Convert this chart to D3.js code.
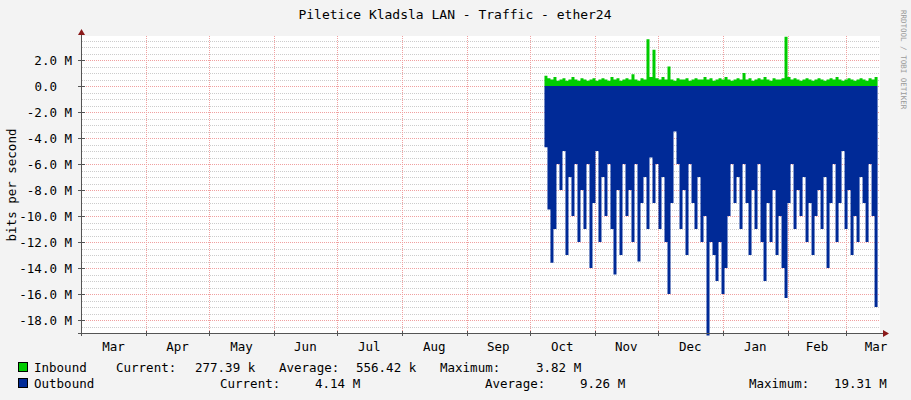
<!DOCTYPE html>
<html><head><meta charset="utf-8">
<script src="https://cdn.jsdelivr.net/npm/d3@7"></script>
<style>body{margin:0;background:#f3f3f3}text{font-family:"DejaVu Sans Mono",monospace;white-space:pre}</style>
</head><body><svg id="c" width="911" height="400"></svg>
<script>
const title = "Piletice Kladsla LAN - Traffic - ether24";
const months = ["Mar","Apr","May","Jun","Jul","Aug","Sep","Oct","Nov","Dec","Jan","Feb","Mar"];
const yTicks = [2,0,-2,-4,-6,-8,-10,-12,-14,-16,-18];
const dataStart = new Date(2018,9,8);
const stepDays = 1.431;
const outbound = [4.7,9.5,13.6,11,6,8,5,13,7,10,6,12,8,11,6,14,9,5,12,7,10,6,11,14.5,8,13,6,10,8,12,6,13.5,9,7,11,5.5,9,6,11,7,12,16,9,3.5,6,11,8,13,6,9,11,7,12,10,19.2,12,13,15,12,16,14,10,6,9,7,11,6,9,13,8,11,6,12,15,9,12,8,13,10,14,16.3,9,6,11,8,10,7,12,9,13,10,8,11,7,14,9,6,12,9,5,11,8,13,10,12,7,9,12,6,10,17,4.14];
const inbound = [0.8,0.6,0.5,0.7,0.4,0.5,0.6,0.4,0.5,0.7,0.5,0.4,0.6,0.5,0.4,0.5,0.6,0.4,0.5,0.6,0.5,0.4,0.7,0.5,0.6,0.4,0.5,0.6,0.5,0.9,0.5,0.4,0.6,0.5,3.6,0.7,2.8,0.6,0.5,0.7,0.5,1.5,0.5,0.4,0.6,0.5,0.5,0.6,0.4,0.5,0.6,0.5,0.5,0.7,0.5,0.6,0.4,0.5,0.6,0.5,0.7,0.5,0.4,0.5,0.6,0.5,1.0,0.5,0.6,0.4,0.5,0.6,0.5,0.7,0.5,0.4,0.6,0.5,0.5,0.6,3.8,0.7,0.5,0.6,0.5,0.4,0.5,0.6,0.5,0.4,0.5,0.6,0.5,0.4,0.5,0.6,0.5,0.7,0.5,0.4,0.5,0.6,0.5,0.4,0.5,0.6,0.5,0.4,0.6,0.5,0.7,0.28];
const legendRows = [
 {name:"Inbound", color:"#00cc00", parts:[[116,"Current:"],[195,"277.39 k"],[279,"Average:"],[356,"556.42 k"],[440,"Maximum:"],[536,"3.82 M"]]},
 {name:"Outbound", color:"#002a97", parts:[[220,"Current:"],[315,"4.14 M"],[485,"Average:"],[580,"9.26 M"],[749,"Maximum:"],[834,"19.31 M"]]}
];

const svg = d3.select("#c");
const L=82,R=880,T=36,B=333;
svg.append("rect").attr("x",0).attr("y",0).attr("width",911).attr("height",400).attr("fill","#f3f3f3");
svg.append("rect").attr("x",L).attr("y",T).attr("width",R-L).attr("height",B-T).attr("fill","#fff");
const x = d3.scaleTime().domain([new Date(2018,2,1), new Date(2019,2,17)]).range([81,880]);
const y = d3.scaleLinear().domain([-19,3.85]).range([B,T]);
const g = svg.append("g");
// minor grid
for(let v=-19; v<=3.5; v+=0.5){ if(Math.abs(v%2)<1e-9) continue;
  g.append("line").attr("x1",L).attr("x2",R).attr("y1",Math.round(y(v))+0.5).attr("y2",Math.round(y(v))+0.5).attr("stroke","#ccc").attr("stroke-dasharray","1,1");}
yTicks.forEach(v=>g.append("line").attr("x1",L).attr("x2",R).attr("y1",Math.round(y(v))+0.5).attr("y2",Math.round(y(v))+0.5).attr("stroke","#f0a0a0").attr("stroke-dasharray","1,1"));
const bounds = d3.timeMonth.range(new Date(2018,3,1), new Date(2019,2,2));
bounds.forEach(d=>g.append("line").attr("x1",Math.round(x(d))+0.5).attr("x2",Math.round(x(d))+0.5).attr("y1",T).attr("y2",B).attr("stroke","#f0a0a0").attr("stroke-dasharray","1,1"));
const dates = outbound.map((v,i)=>new Date(+dataStart + i*stepDays*864e5));
const area = d3.area().curve(d3.curveStepAfter).x((d,i)=>x(dates[i])).y0(y(0));
svg.append("path").datum(outbound).attr("fill","#002a97").attr("d",area.y1(d=>y(-d)));
svg.append("path").datum(inbound).attr("fill","#00cc00").attr("d",area.y1(d=>y(d)));
// axes
svg.append("line").attr("x1",81.5).attr("x2",81.5).attr("y1",B+3).attr("y2",31).attr("stroke","#555");
svg.append("path").attr("d","M78,35L85,35L81.5,29Z").attr("fill","#8b1a1a");
svg.append("line").attr("x1",78).attr("x2",884).attr("y1",B+0.5).attr("y2",B+0.5).attr("stroke","#555");
svg.append("path").attr("d","M883,330L883,337L889,333.5Z").attr("fill","#8b1a1a");
yTicks.forEach(v=>{
  svg.append("line").attr("x1",78).attr("x2",85).attr("y1",Math.round(y(v))+0.5).attr("y2",Math.round(y(v))+0.5).attr("stroke","#555");
  svg.append("text").attr("x",v===0?57:72).attr("y",y(v)+4.5).attr("text-anchor","end").attr("font-size",12.5).attr("fill","#000").text(v===0?"0.0":v.toFixed(1)+" M");
});
bounds.forEach(d=>svg.append("line").attr("x1",Math.round(x(d))+0.5).attr("x2",Math.round(x(d))+0.5).attr("y1",B-2).attr("y2",B+3).attr("stroke","#555"));
const starts = d3.timeMonth.range(new Date(2018,2,1), new Date(2019,2,2));
starts.forEach((d,i)=>{
  const e = d3.timeMonth.offset(d,1);
  const cx = i===12? 876 : (x(d)+x(e))/2;
  svg.append("text").attr("x",cx).attr("y",351).attr("text-anchor","middle").attr("font-size",12.5).text(months[i]);
});
svg.append("text").attr("x",455).attr("y",19).attr("text-anchor","middle").attr("font-size",13).text(title);
svg.append("text").attr("transform","translate(16,185) rotate(-90)").attr("text-anchor","middle").attr("font-size",12.5).text("bits per second");
svg.append("text").attr("transform","translate(901,10) rotate(90)").attr("font-size",7.5).attr("fill","#999").text("RRDTOOL / TOBI OETIKER");
legendRows.forEach((r,i)=>{
  const yy = 372+i*16;
  svg.append("rect").attr("x",18.5).attr("y",yy-9.5).attr("width",9).attr("height",9).attr("fill",r.color).attr("stroke","#000");
  svg.append("text").attr("x",34).attr("y",yy).attr("font-size",12.5).text(r.name);
  r.parts.forEach(p=>svg.append("text").attr("x",p[0]).attr("y",yy).attr("font-size",12.5).text(p[1]));
});
</script></body></html>
